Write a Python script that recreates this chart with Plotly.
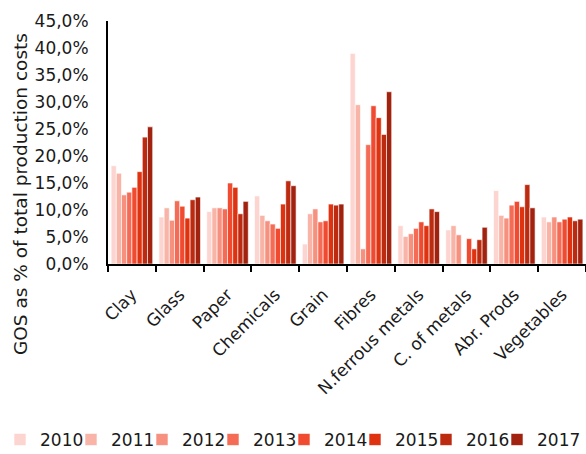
import plotly.graph_objects as go

categories = ["Clay", "Glass", "Paper", "Chemicals", "Grain", "Fibres",
              "N.ferrous metals", "C. of metals", "Abr. Prods", "Vegetables"]
years = ["2010", "2011", "2012", "2013", "2014", "2015", "2016", "2017"]

# values per year, one entry per category (GOS as % of total production costs)
v2010 = [18.2, 8.7, 9.7, 12.6, 3.7, 39.0, 7.1, 6.3, 13.6, 8.7]
v2011 = [16.8, 10.4, 10.4, 9.0, 9.3, 29.5, 5.1, 7.1, 9.0, 7.8]
v2012 = [12.8, 8.1, 10.4, 8.0, 10.2, 2.8, 5.6, 5.4, 8.5, 8.7]
v2013 = [13.3, 11.7, 10.2, 7.4, 7.8, 22.1, 6.6, None, 10.9, 7.8]
v2014 = [14.2, 10.7, 15.0, 6.6, 8.0, 29.3, 7.8, 4.7, 11.6, 8.3]
v2015 = [17.1, 8.5, 14.2, 11.1, 11.1, 27.1, 7.1, 2.8, 10.6, 8.7]
v2016 = [23.5, 11.9, 9.3, 15.4, 10.9, 24.0, 10.2, 4.5, 14.7, 8.0]
v2017 = [25.4, 12.4, 11.6, 14.5, 11.1, 31.9, 9.7, 6.8, 10.4, 8.3]
series = [v2010, v2011, v2012, v2013, v2014, v2015, v2016, v2017]

colors = ["#fdd5d0", "#f9b4a8", "#f7917f", "#f46c56",
          "#f04b30", "#de3210", "#bc2a10", "#a0220f"]

y_tickvals = [0, 5, 10, 15, 20, 25, 30, 35, 40, 45]
y_ticklabels = ["0,0%", "5,0%", "10,0%", "15,0%", "20,0%",
                "25,0%", "30,0%", "35,0%", "40,0%", "45,0%"]

FONT = "DejaVu Sans"
TXT = "#1a1a1a"
W, H = 586, 454

fig = go.Figure()
legend_layouts = {}
for i, (yr, vals, col) in enumerate(zip(years, series, colors)):
    lid = "legend" if i == 0 else f"legend{i + 1}"
    fig.add_trace(go.Bar(
        x=categories, y=vals, name=yr,
        marker=dict(color=col, line=dict(color="white", width=0.6)),
        legend=lid,
    ))
    # one single-entry legend per year, laid out in a row below the chart
    legend_layouts[lid] = dict(
        orientation="h", xref="container", yref="container",
        x=(i * 71.0) / W, xanchor="left",
        y=0.031, yanchor="middle",
        font=dict(family=FONT, size=17, color=TXT),
        itemwidth=30, bgcolor="rgba(0,0,0,0)",
    )

fig.update_layout(
    width=W, height=H,
    barmode="group", bargap=0.13, bargroupgap=0,
    plot_bgcolor="white", paper_bgcolor="white",
    font=dict(family=FONT, size=17, color=TXT),
    margin=dict(l=108, r=0, t=21, b=190),
    showlegend=True,
    annotations=[dict(
        text="GOS as % of total production costs",
        xref="paper", yref="paper", x=-0.184, y=0.288,
        xanchor="center", yanchor="middle", textangle=-90,
        showarrow=False, font=dict(family=FONT, size=18.5, color=TXT),
    )],
    **legend_layouts,
)

fig.update_yaxes(
    range=[0, 45], tickvals=y_tickvals, ticktext=y_ticklabels,
    showgrid=False, zeroline=False, showline=True, linecolor="black",
    linewidth=2, ticks="", ticklabelstandoff=14,
)
fig.update_xaxes(
    showgrid=False, showline=True, linecolor="black", linewidth=2,
    ticks="outside", tickson="boundaries", ticklen=6, tickwidth=2,
    tickcolor="black", tickangle=-45,
    ticklabelstandoff=12, ticklabelshift=0,
)

fig.write_html("out.html", config={"displayModeBar": False},
               post_script="document.body.style.margin='0';")
